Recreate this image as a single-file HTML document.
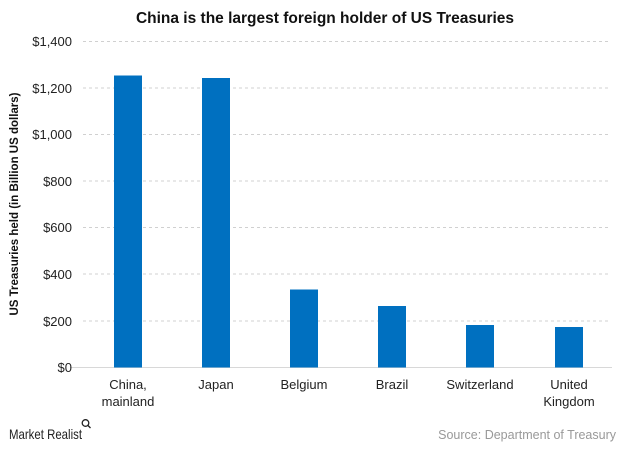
<!DOCTYPE html>
<html><head><style>
body{margin:0;background:#fff;}
svg text{font-family:"Liberation Sans",Arial,sans-serif;}
</style></head><body>
<svg width="624" height="445" xmlns="http://www.w3.org/2000/svg">
<rect width="624" height="445" fill="#fff"/>
<text x="325" y="23" text-anchor="middle" font-size="15.5" font-weight="bold" fill="#111">China is the largest foreign holder of US Treasuries</text>
<g stroke="#d0d0d0" stroke-dasharray="3,3" stroke-width="1">
<line x1="83" x2="610" y1="41.5" y2="41.5"/>
<line x1="83" x2="610" y1="88" y2="88"/>
<line x1="83" x2="610" y1="134.5" y2="134.5"/>
<line x1="83" x2="610" y1="181" y2="181"/>
<line x1="83" x2="610" y1="227.5" y2="227.5"/>
<line x1="83" x2="610" y1="274" y2="274"/>
<line x1="83" x2="610" y1="321" y2="321"/>
</g>
<line x1="70" x2="612" y1="367.5" y2="367.5" stroke="#d8d8d8"/>
<g font-size="13" fill="#222" text-anchor="end">
<text x="72" y="46">$1,400</text>
<text x="72" y="93">$1,200</text>
<text x="72" y="139">$1,000</text>
<text x="72" y="186">$800</text>
<text x="72" y="232">$600</text>
<text x="72" y="279">$400</text>
<text x="72" y="326">$200</text>
<text x="72" y="372">$0</text>
</g>
<text transform="translate(18,204) rotate(-90)" text-anchor="middle" font-size="11.5" font-weight="bold" fill="#111">US Treasuries held (in Billion US dollars)</text>
<g fill="#0070c0">
<rect x="114" y="75.5" width="28" height="292"/>
<rect x="202" y="78" width="28" height="289.5"/>
<rect x="290" y="289.5" width="28" height="78"/>
<rect x="378" y="306" width="28" height="61.5"/>
<rect x="466" y="325" width="28" height="42.5"/>
<rect x="555" y="327" width="28" height="40.5"/>
</g>
<g font-size="13" fill="#222" text-anchor="middle">
<text x="128" y="389">China,</text><text x="128" y="406">mainland</text>
<text x="216" y="389">Japan</text>
<text x="304" y="389">Belgium</text>
<text x="392" y="389">Brazil</text>
<text x="480" y="389">Switzerland</text>
<text x="569" y="389">United</text><text x="569" y="406">Kingdom</text>
</g>
<text x="9" y="439" font-size="14" fill="#222" textLength="73" lengthAdjust="spacingAndGlyphs">Market Realist</text>
<circle cx="85.5" cy="423" r="3.3" fill="none" stroke="#222" stroke-width="1.3"/>
<line x1="88" y1="425.5" x2="90.5" y2="428" stroke="#222" stroke-width="1.3"/>
<text x="616" y="439" font-size="12.5" fill="#999" text-anchor="end">Source: Department of Treasury</text>
</svg>
</body></html>
